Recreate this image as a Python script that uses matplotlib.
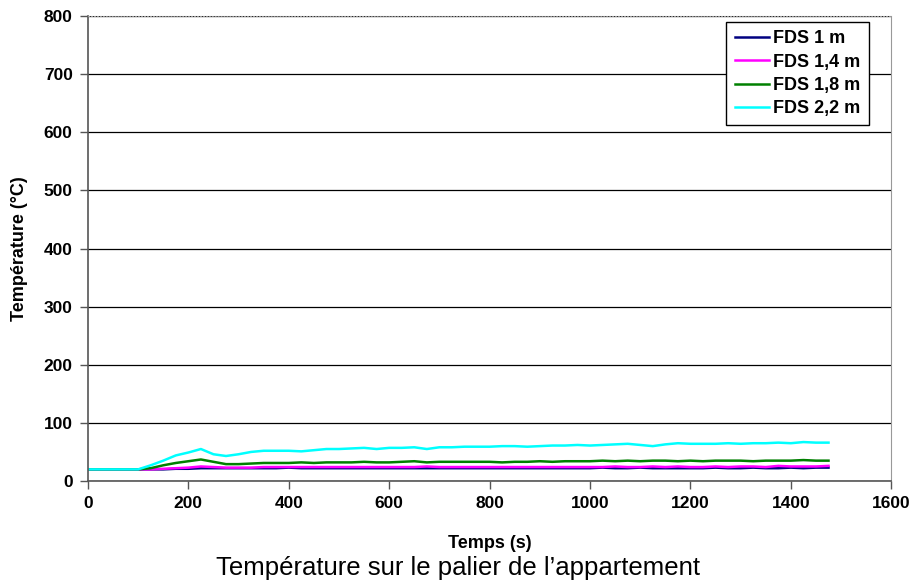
import numpy as np
import matplotlib
matplotlib.use("Agg")
import matplotlib.pyplot as plt

plt.rcParams['font.family'] = ['Liberation Sans', 'DejaVu Sans']

# time (s)
temps = [0, 25, 50, 75, 100, 125, 150, 175, 200, 225, 250, 275, 300, 325, 350,
         375, 400, 425, 450, 475, 500, 525, 550, 575, 600, 625, 650, 675, 700,
         725, 750, 775, 800, 825, 850, 875, 900, 925, 950, 975, 1000, 1025,
         1050, 1075, 1100, 1125, 1150, 1175, 1200, 1225, 1250, 1275, 1300,
         1325, 1350, 1375, 1400, 1425, 1450, 1475]

fds_1m = [20, 20, 20, 20, 20, 20, 20, 21, 21, 22, 22, 22, 22, 22, 22,
          22, 23, 22, 22, 22, 22, 22, 22, 22, 22, 22, 22, 22, 22,
          22, 22, 22, 22, 22, 22, 22, 22, 22, 22, 22, 22, 23,
          22, 22, 23, 22, 22, 22, 22, 22, 23, 22, 22,
          23, 22, 22, 23, 22, 23, 23]

fds_14m = [20, 20, 20, 20, 20, 20, 21, 22, 23, 25, 24, 23, 23, 23, 24,
           24, 24, 24, 24, 24, 24, 24, 24, 24, 24, 24, 24, 25, 24,
           24, 24, 24, 24, 24, 24, 24, 24, 24, 24, 24, 24, 24,
           25, 24, 24, 25, 24, 25, 24, 24, 25, 24, 25,
           25, 24, 26, 25, 25, 25, 26]

fds_18m = [20, 20, 20, 20, 20, 22, 27, 31, 34, 37, 33, 29, 29, 30, 31,
           31, 31, 32, 31, 32, 32, 32, 33, 32, 32, 33, 34, 32, 33,
           33, 33, 33, 33, 32, 33, 33, 34, 33, 34, 34, 34, 35,
           34, 35, 34, 35, 35, 34, 35, 34, 35, 35, 35,
           34, 35, 35, 35, 36, 35, 35]

fds_22m = [20, 20, 20, 20, 20, 27, 35, 44, 49, 55, 46, 43, 46, 50, 52,
           52, 52, 51, 53, 55, 55, 56, 57, 55, 57, 57, 58, 55, 58,
           58, 59, 59, 59, 60, 60, 59, 60, 61, 61, 62, 61, 62,
           63, 64, 62, 60, 63, 65, 64, 64, 64, 65, 64,
           65, 65, 66, 65, 67, 66, 66]

series = [("FDS 1 m", fds_1m, "#000080"),
          ("FDS 1,4 m", fds_14m, "#FF00FF"),
          ("FDS 1,8 m", fds_18m, "#008000"),
          ("FDS 2,2 m", fds_22m, "#00FFFF")]

fig = plt.figure(figsize=(9.16, 5.87), dpi=100)
ax = fig.add_axes([0.096, 0.1806, 0.877, 0.792])

for label, vals, col in series:
    ax.plot(temps, vals, color=col, lw=1.8, label=label)

ax.set_xlim(0, 1600)
ax.set_ylim(0, 800)
ax.set_xticks(range(0, 1601, 200))
ax.set_yticks(range(0, 801, 100))
ax.yaxis.grid(True, color="black", lw=0.9)
ax.set_axisbelow(True)

for lbl in ax.get_xticklabels() + ax.get_yticklabels():
    lbl.set_fontweight("bold")
    lbl.set_fontsize(12.5)
ax.tick_params(axis="both", direction="out", length=6, color="#555555", width=1)
ax.tick_params(axis="x", pad=5)
ax.tick_params(axis="y", pad=5)

ax.spines["left"].set_color("#555555")
ax.spines["bottom"].set_color("#555555")
ax.spines["left"].set_linewidth(1.2)
ax.spines["bottom"].set_linewidth(1.2)
ax.spines["top"].set_color("#999999")
ax.spines["top"].set_linestyle(":")
ax.spines["right"].set_color("#999999")

ax.set_xlabel("Temps (s)", fontweight="bold", fontsize=13, labelpad=17)
ax.set_ylabel("Température (°C)", fontweight="bold", fontsize=13, labelpad=11)

leg = ax.legend(loc="upper right", bbox_to_anchor=(0.972, 0.987),
                borderaxespad=0,
                prop={"weight": "bold", "size": 13}, handlelength=1.9,
                handletextpad=0.25, borderpad=0.45, labelspacing=0.35,
                fancybox=False, framealpha=1, edgecolor="black")
leg.get_frame().set_linewidth(1)

fig.text(0.5, 0.02, "Température sur le palier de l’appartement",
         ha="center", fontsize=18.5)

fig.savefig("out.png", dpi=100)
